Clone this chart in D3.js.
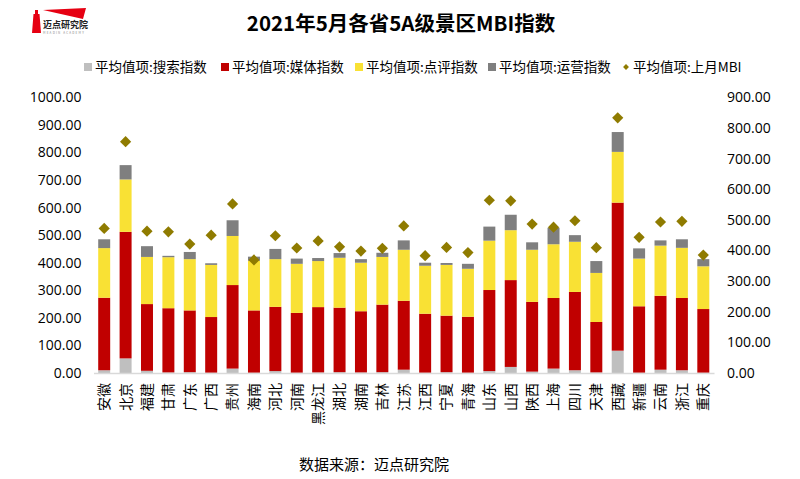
<!DOCTYPE html>
<html>
<head>
<meta charset="utf-8">
<script src="https://cdn.jsdelivr.net/npm/d3@7"></script>
<style>
  body { margin: 0; background: #fff; }
  svg { display: block; font-family: "Noto Sans CJK SC", "Noto Sans", sans-serif; }
</style>
</head>
<body>
<div id="chart"></div>
<script>
// Data
var provinces = ["安徽","北京","福建","甘肃","广东","广西","贵州","海南","河北","河南","黑龙江","湖北","湖南","吉林","江苏","江西","宁夏","青海","山东","山西","陕西","上海","四川","天津","西藏","新疆","云南","浙江","重庆"];
var searchIdx = [10, 53, 8, 2, 3, 1, 16, 1, 7, 1, 2, 3, 2, 3, 12, 1, 3, 1, 7, 22, 5, 16, 10, 2, 81, 1, 12, 10, 1];
var mediaIdx  = [263, 459, 242, 233, 224, 202, 303, 226, 233, 217, 237, 234, 222, 245, 250, 214, 205, 203, 294, 315, 253, 256, 284, 183, 537, 241, 268, 262, 231];
var reviewIdx = [180, 190, 171, 185, 186, 189, 178, 180, 173, 178, 167, 181, 176, 173, 185, 174, 184, 174, 179, 181, 189, 195, 182, 178, 184, 173, 182, 182, 155];
var operIdx   = [32, 52, 39, 5, 26, 6, 57, 15, 37, 19, 11, 17, 13, 15, 34, 11, 7, 18, 51, 56, 27, 60, 24, 43, 72, 37, 19, 31, 26];
var lastMBI   = [472, 755, 463, 461, 421, 450, 552, 369, 448, 408, 431, 412, 398, 407, 480, 383, 410, 393, 564, 562, 486, 476, 497, 409, 833, 443, 493, 495, 385];
var leftTicks = [0, 100, 200, 300, 400, 500, 600, 700, 800, 900, 1000];
var rightTicks = [0, 100, 200, 300, 400, 500, 600, 700, 800, 900];

var seriesNames = ["平均值项:搜索指数", "平均值项:媒体指数", "平均值项:点评指数", "平均值项:运营指数"];
var seriesColors = ["#bfbfbf", "#c00000", "#f9e134", "#7f7f7f"];
var diamondColor = "#8f7b00";

var width = 800, height = 479;
var margin = {top: 97.3, right: 86, bottom: 106, left: 93.5};

var svg = d3.select("#chart").append("svg")
    .attr("width", width)
    .attr("height", height);

// scales
var x = d3.scaleBand()
    .domain(provinces)
    .range([margin.left, width - margin.right])
    .paddingInner(0.44)
    .paddingOuter(0.22);
var yL = d3.scaleLinear().domain([0, 1000]).range([height - margin.bottom, margin.top]);
var yR = d3.scaleLinear().domain([0, 900]).range([height - margin.bottom, margin.top]);

// stacked data
var rows = provinces.map(function(p, i) {
  return {name: p, s0: searchIdx[i], s1: mediaIdx[i], s2: reviewIdx[i], s3: operIdx[i]};
});
var stack = d3.stack().keys(["s0", "s1", "s2", "s3"]);
var layers = stack(rows);

svg.append("g").selectAll("g")
  .data(layers)
  .enter().append("g")
    .attr("fill", function(d, i) { return seriesColors[i]; })
  .selectAll("rect")
  .data(function(d) { return d; })
  .enter().append("rect")
    .attr("x", function(d) { return x(d.data.name); })
    .attr("width", x.bandwidth())
    .attr("y", function(d) { return yL(d[1]); })
    .attr("height", function(d) { return yL(d[0]) - yL(d[1]); });

// bottom axis line
var xAxis = svg.append("g")
    .attr("transform", "translate(0," + yL(0) + ")")
    .call(d3.axisBottom(x).tickSize(0).tickPadding(10));
xAxis.select(".domain").attr("stroke", "#d9d9d9").attr("stroke-width", 1.5);
xAxis.selectAll(".tick text")
    .attr("transform", "rotate(-90)")
    .attr("text-anchor", "end")
    .attr("x", -10)
    .attr("y", 0)
    .attr("dy", "0.35em")
    .style("font-size", "14px")
    .style("font-family", "'Noto Sans CJK SC', sans-serif")
    .attr("fill", "#000");

// left axis
var axL = svg.append("g")
    .attr("transform", "translate(" + margin.left + ",0)")
    .call(d3.axisLeft(yL).tickValues(leftTicks).tickFormat(d3.format(".2f")).tickSize(0).tickPadding(12));
axL.select(".domain").remove();
axL.selectAll(".tick text").style("font-size", "14px").attr("fill", "#000")
    .style("font-family", "'Open Sans', 'Noto Sans', sans-serif");

// right axis
var axR = svg.append("g")
    .attr("transform", "translate(" + (width - margin.right) + ",0)")
    .call(d3.axisRight(yR).tickValues(rightTicks).tickFormat(d3.format(".2f")).tickSize(0).tickPadding(13));
axR.select(".domain").remove();
axR.selectAll(".tick text").style("font-size", "14px").attr("fill", "#000")
    .style("font-family", "'Open Sans', 'Noto Sans', sans-serif");

// last month MBI diamonds
var diamond = d3.symbol().type(d3.symbolDiamond2).size(80);
svg.append("g").selectAll("path")
  .data(provinces)
  .enter().append("path")
    .attr("d", diamond)
    .attr("fill", diamondColor)
    .attr("transform", function(d, i) {
      return "translate(" + (x(d) + x.bandwidth() / 2) + "," + yR(lastMBI[i]) + ")";
    });

// title
svg.append("text")
    .attr("x", 401)
    .attr("y", 31)
    .attr("text-anchor", "middle")
    .style("font-size", "20.5px")
    .style("font-weight", "bold")
    .text("2021年5月各省5A级景区MBI指数");

// legend
var legendX = [84, 221, 355, 488];
var leg = svg.append("g").style("font-size", "13.5px");
seriesNames.forEach(function(n, i) {
  leg.append("rect")
    .attr("x", legendX[i]).attr("y", 63)
    .attr("width", 8).attr("height", 8)
    .attr("fill", seriesColors[i]);
  leg.append("text")
    .attr("x", legendX[i] + 11).attr("y", 67)
    .attr("dy", "0.35em")
    .text(n);
});
leg.append("path")
    .attr("d", d3.symbol().type(d3.symbolDiamond2).size(22))
    .attr("fill", diamondColor)
    .attr("transform", "translate(626,67)");
leg.append("text")
    .attr("x", 633).attr("y", 67)
    .attr("dy", "0.35em")
    .text("平均值项:上月MBI");

// source
svg.append("text")
    .attr("x", 374)
    .attr("y", 470)
    .attr("text-anchor", "middle")
    .style("font-size", "15px")
    .text("数据来源：迈点研究院");

// logo
var logo = svg.append("g");
logo.append("path")
    .attr("d", "M35,10 L38,10 L38,14 L39.5,14 L41,33 L32,33 L33.5,14 L35,14 Z")
    .attr("fill", "#e60012");
logo.append("path")
    .attr("d", "M43,10 L86,8 L83,19 Z")
    .attr("fill", "#e60012");
logo.append("text")
    .attr("x", 43).attr("y", 28)
    .style("font-size", "9px")
    .style("font-weight", "bold")
    .attr("fill", "#222")
    .text("迈点研究院");
logo.append("text")
    .attr("x", 43).attr("y", 34)
    .style("font-size", "3px")
    .style("letter-spacing", "1.2px")
    .attr("fill", "#888")
    .text("MEADIN ACADEMY");
</script>
</body>
</html>
